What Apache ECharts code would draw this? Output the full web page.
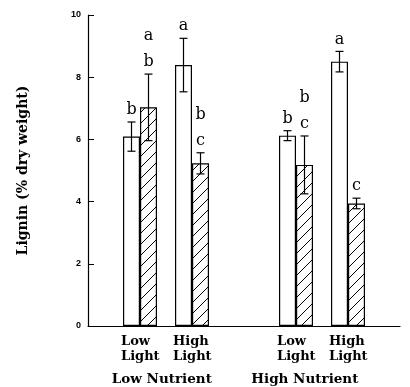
<!DOCTYPE html>
<html>
<head>
<meta charset="utf-8">
<script src="https://cdn.jsdelivr.net/npm/echarts@6/dist/echarts.min.js"></script>
<style>
  html, body { margin: 0; padding: 0; background: #fff; }
  #chart { width: 410px; height: 387px; }
</style>
</head>
<body>
<div id="chart"></div>
<script>
// Slots along the x axis; empty slots give the gap between nutrient groups.
const slotKeys = ['s0', 'LN-LL', 'LN-HL', 's3', 'HN-LL', 'HN-HL', 's6'];
const slotLabels = ['', 'Low\nLight', 'High\nLight', '', 'Low\nLight', 'High\nLight', ''];
const treatmentSlots = [1, 2, 4, 5];

// Lignin, % dry weight: open bars and hatched bars, with error half-widths
const openMeans = [6.09, 8.39, 6.12, 8.50];
const openErrors = [0.47, 0.86, 0.16, 0.33];
const hatchedMeans = [7.03, 5.23, 5.18, 3.94];
const hatchedErrors = [1.07, 0.34, 0.93, 0.17];

// Significance letters, listed from the lowest one upwards
const openLetters = [['b'], ['a'], ['b'], ['a']];
const hatchedLetters = [['b', 'a'], ['c', 'b'], ['c', 'b'], ['c']];

// Nutrient group captions and their positions in slot units
const groupNames = ['Low Nutrient', 'High Nutrient'];
const groupCenters = [1.42, 4.17];

const yTicks = [0, 2, 4, 6, 8, 10];

const SERIF = '"DejaVu Serif", "Liberation Serif", serif';
const BAR_W = 17;

function hatchPattern() {
  const s = 11;
  const c = document.createElement('canvas');
  c.width = s; c.height = s;
  const g = c.getContext('2d');
  g.fillStyle = '#fff';
  g.fillRect(0, 0, s, s);
  g.strokeStyle = '#000';
  g.lineWidth = 1;
  for (const k of [-s, 0, s]) {
    g.beginPath();
    g.moveTo(k - 1, s + 1);
    g.lineTo(k + s + 1, -1);
    g.stroke();
  }
  return c;
}

function slotArray(values) {
  const arr = slotKeys.map(() => null);
  treatmentSlots.forEach((slot, i) => { arr[slot] = values[i]; });
  return arr;
}

function errorData(means, errors, letters, side) {
  return treatmentSlots.map((slot, i) => [slot, means[i], errors[i], letters[i].join(','), side]);
}

function renderError(params, api) {
  const slot = api.value(0);
  const mean = api.value(1);
  const err = api.value(2);
  const side = api.value(4);
  const letters = String(api.value(3)).split(',').filter(Boolean);
  const top = api.coord([slot, mean + err]);
  const bot = api.coord([slot, mean - err]);
  const x = top[0] + side * BAR_W / 2;
  const cap = 4;
  const style = { stroke: '#000', lineWidth: 1.2 };
  const children = [
    { type: 'line', shape: { x1: x, y1: top[1], x2: x, y2: bot[1] }, style },
    { type: 'line', shape: { x1: x - cap, y1: top[1], x2: x + cap, y2: top[1] }, style },
    { type: 'line', shape: { x1: x - cap, y1: bot[1], x2: x + cap, y2: bot[1] }, style }
  ];
  letters.forEach((t, k) => {
    children.push({
      type: 'text',
      style: {
        x: x, y: top[1] - 12 - k * 26, text: t,
        fill: '#000', font: '16px ' + SERIF,
        align: 'center', verticalAlign: 'middle'
      }
    });
  });
  return { type: 'group', children };
}

const chart = echarts.init(document.getElementById('chart'), null, { renderer: 'canvas' });

const option = {
  backgroundColor: '#fff',
  animation: false,
  grid: { left: 88, right: 10, top: 15, bottom: 61 },
  xAxis: {
    type: 'category',
    data: slotKeys,
    boundaryGap: false,
    axisLine: { lineStyle: { color: '#000', width: 1.2 } },
    axisTick: { show: false },
    splitLine: { show: false },
    axisLabel: {
      interval: 0,
      margin: 8,
      formatter: (v, i) => slotLabels[i] ? slotLabels[i].split('\n').map(s => '{t|' + s + '}').join('\n') : '',
      rich: {
        t: { width: 38, align: 'left', fontFamily: SERIF, fontWeight: 'bold', fontSize: 13, lineHeight: 15, color: '#000' }
      }
    }
  },
  yAxis: {
    type: 'value',
    min: yTicks[0],
    max: yTicks[yTicks.length - 1],
    interval: yTicks[1] - yTicks[0],
    name: 'Lignin (% dry weight)',
    nameLocation: 'middle',
    nameRotate: 90,
    nameGap: 58,
    nameTextStyle: { fontFamily: SERIF, fontWeight: 'bold', fontSize: 14, color: '#000' },
    axisLine: { show: true, lineStyle: { color: '#000', width: 1.2 } },
    axisTick: { show: true, inside: true, length: 6, lineStyle: { color: '#000', width: 1 } },
    splitLine: { show: false },
    axisLabel: { margin: 7, fontFamily: '"Liberation Sans", Arial, sans-serif', fontWeight: 'bold', fontSize: 9, color: '#000' }
  },
  series: [
    {
      type: 'bar',
      data: slotArray(openMeans),
      barWidth: BAR_W,
      barGap: '0%',
      itemStyle: { color: '#fff', borderColor: '#000', borderWidth: 1.2 }
    },
    {
      type: 'bar',
      data: slotArray(hatchedMeans),
      barWidth: BAR_W,
      barGap: '0%',
      itemStyle: { color: { image: hatchPattern(), repeat: 'repeat' }, borderColor: '#000', borderWidth: 1.2 }
    },
    {
      type: 'custom',
      renderItem: renderError,
      data: errorData(openMeans, openErrors, openLetters, -1),
      z: 5
    },
    {
      type: 'custom',
      renderItem: renderError,
      data: errorData(hatchedMeans, hatchedErrors, hatchedLetters, 1),
      z: 5
    }
  ]
};

chart.setOption(option);

// Nutrient captions under the light-level labels
const p0 = chart.convertToPixel({ xAxisIndex: 0 }, 0);
const p1 = chart.convertToPixel({ xAxisIndex: 0 }, 1);
const step = p1 - p0;
chart.setOption({
  graphic: groupNames.map((name, i) => ({
    type: 'text',
    x: p0 + groupCenters[i] * step,
    y: 379,
    style: {
      text: name, fill: '#000',
      font: 'bold 13.5px ' + SERIF,
      align: 'center', verticalAlign: 'middle'
    }
  }))
});
</script>
</body>
</html>
